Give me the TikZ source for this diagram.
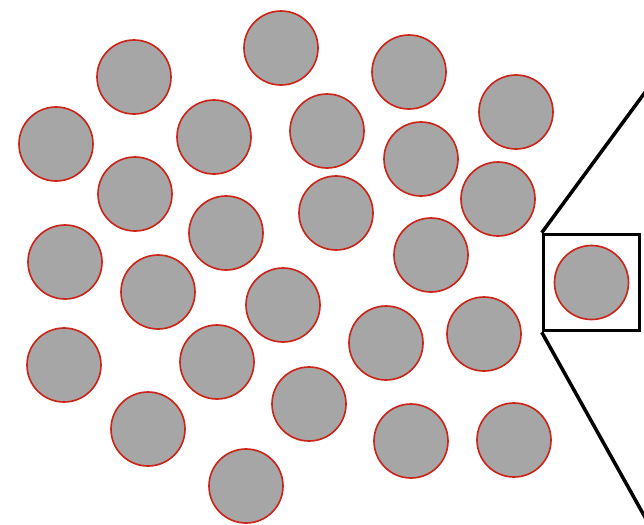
\documentclass[tikz,border=0pt]{standalone}
\usepackage{tikz}
\usetikzlibrary{positioning}
\definecolor{grainfill}{HTML}{A6A6A6}
\definecolor{grainedge}{HTML}{CC2418}

\begin{document}
\begin{tikzpicture}[
  x=0.03cm, y=-0.03cm,
  grain/.style={circle, draw=grainedge, fill=grainfill, line width=1.4pt,
    minimum size=2.22cm, inner sep=0pt},
  zoombox/.style={draw=black, line width=3pt, minimum size=2.88cm, inner sep=0pt},
  zoomline/.style={draw=black, line width=3pt}
]
\useasboundingbox (0,0) rectangle (644,524);
% grains of the packing
\foreach \name/\px/\py in {g1/134/77, g2/281/48, g3/409/72, g4/516/112,
    g5/56/144, g6/214/137, g7/327/131, g8/421/159, g9/135/194, g10/498/199,
    g11/336/213, g12/226/233, g13/65/262, g14/431/255, g15/158/292,
    g16/283/305, g17/484/334, g18/386/343, g19/64/365, g20/217/362,
    g21/309/404, g22/148/429, g23/411/441, g24/514/440, g25/246/486}
  \node[grain] (\name) at (\px,\py) {};

% zoomed grain
\node[zoombox] (zoom) at (591.5,282.5) {};
\node[grain] (g26) at (zoom.center) {};
\coordinate (zt) at (646,91);
\coordinate (zb) at (646,519);
\draw[zoomline] (zoom.north west) -- (zt);
\draw[zoomline] (zoom.south west) -- (zb);
\end{tikzpicture}
\end{document}
